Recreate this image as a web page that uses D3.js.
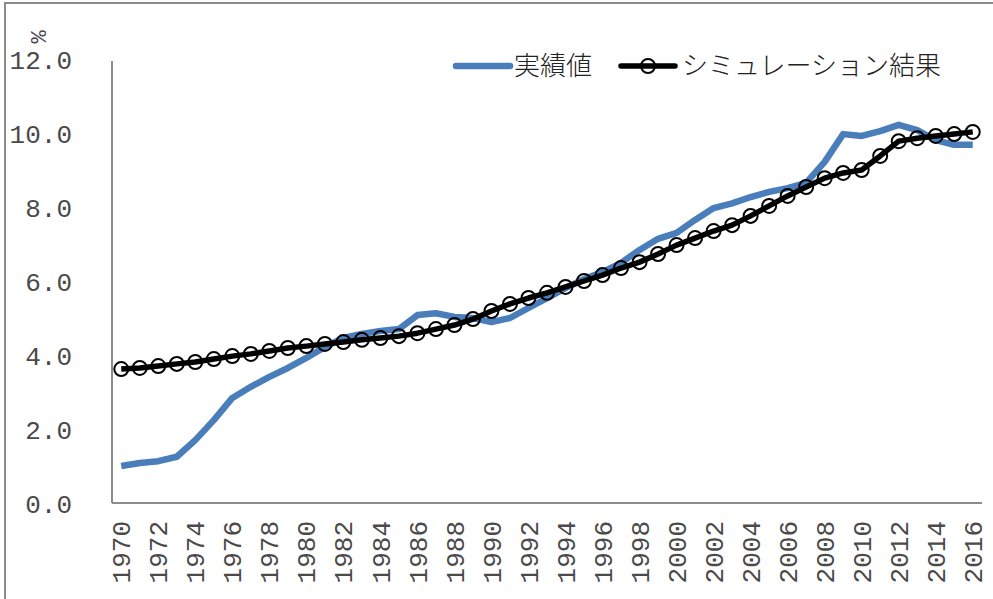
<!DOCTYPE html>
<html>
<head>
<meta charset="utf-8">
<script src="https://cdn.jsdelivr.net/npm/d3@7"></script>
<style>
  body { margin: 0; background: #fff; }
  svg { display: block; }
  .tick text { font-family: "Liberation Mono", monospace; font-size: 26px; fill: #4a4a4a; }
  .legend text { font-family: "Noto Sans CJK JP", sans-serif; font-size: 26px; font-weight: 300; fill: #222; }
</style>
</head>
<body>
<div id="chart"></div>
<script>
// 年
var years = d3.range(1970, 2017);
var yTicks = [0, 2, 4, 6, 8, 10, 12];

// 実績値
var actual = [1.00, 1.08, 1.13, 1.25, 1.70, 2.24, 2.84, 3.14, 3.41, 3.65,
  3.92, 4.22, 4.46, 4.57, 4.65, 4.70, 5.08, 5.13, 5.03, 5.00,
  4.89, 5.00, 5.27, 5.54, 5.81, 6.05, 6.24, 6.49, 6.84, 7.14,
  7.30, 7.65, 7.97, 8.10, 8.27, 8.41, 8.51, 8.65, 9.22, 9.97,
  9.92, 10.05, 10.22, 10.08, 9.81, 9.68, 9.68];

// シミュレーション結果
var simulated = [3.62, 3.65, 3.70, 3.76, 3.81, 3.89, 3.97, 4.03, 4.11, 4.19,
  4.24, 4.30, 4.35, 4.41, 4.46, 4.51, 4.59, 4.70, 4.81, 4.97,
  5.19, 5.38, 5.54, 5.68, 5.84, 6.00, 6.16, 6.35, 6.51, 6.73,
  6.97, 7.16, 7.35, 7.51, 7.76, 8.03, 8.30, 8.54, 8.78, 8.92,
  9.00, 9.38, 9.78, 9.86, 9.92, 9.97, 10.03];

var seriesNames = ["実績値", "シミュレーション結果"];

var W = 993, H = 599;
var plotLeft = 112, plotRight = 982, plotTop = 59, plotBottom = 503;

var svg = d3.select("#chart").append("svg").attr("width", W).attr("height", H);

// 外枠
svg.append("rect")
  .attr("x", 5).attr("y", 3).attr("width", 1000).attr("height", 700)
  .attr("fill", "none").attr("stroke", "#8c8c8c").attr("stroke-width", 2);

var x = d3.scaleBand().domain(years).range([plotLeft, plotRight]);
var y = d3.scaleLinear().domain([0, 12]).range([plotBottom, plotTop]);
var cx = d => x(d) + x.bandwidth() / 2;

// Y軸
var yAxis = svg.append("g")
  .attr("transform", `translate(${plotLeft},0)`)
  .call(d3.axisLeft(y).tickValues(yTicks).tickFormat(d3.format(".1f")).tickSize(0).tickPadding(40));
yAxis.select(".domain").attr("stroke", "#8c8c8c").attr("stroke-width", 2).attr("d", `M0,${plotTop + 2}V${plotBottom}`);
yAxis.selectAll(".tick text").attr("dy", "0.35em");

// X軸
var xAxis = svg.append("g")
  .attr("transform", `translate(0,${plotBottom})`)
  .call(d3.axisBottom(x).tickValues(years.filter(d => d % 2 === 0)).tickSize(0));
xAxis.select(".domain").attr("stroke", "#8c8c8c").attr("stroke-width", 2).attr("d", `M${plotLeft},0H${plotRight}`);
xAxis.selectAll(".tick text")
  .attr("transform", "rotate(-90)")
  .attr("text-anchor", "end")
  .attr("x", -18).attr("y", 0).attr("dy", "0.35em");

// 単位
svg.append("text")
  .attr("transform", "translate(38,37) rotate(-90)")
  .attr("text-anchor", "middle").attr("dy", "0.35em")
  .style("font-family", "Liberation Mono, monospace").style("font-size", "22px").attr("fill", "#4a4a4a")
  .text("%");

var line = d3.line().x((d, i) => cx(years[i])).y(d => y(d));

svg.append("path").datum(actual)
  .attr("d", line).attr("fill", "none")
  .attr("stroke", "#4a7ebb").attr("stroke-width", 6.5).attr("stroke-linejoin", "round");

svg.append("path").datum(simulated)
  .attr("d", line).attr("fill", "none")
  .attr("stroke", "#000").attr("stroke-width", 5.5).attr("stroke-linejoin", "round");

svg.selectAll("circle.sim").data(simulated).join("circle")
  .attr("class", "sim")
  .attr("cx", (d, i) => cx(years[i])).attr("cy", d => y(d)).attr("r", 7)
  .attr("fill", "none").attr("stroke", "#000").attr("stroke-width", 2);

// 凡例
var legend = svg.append("g").attr("class", "legend");
legend.append("line").attr("x1", 456).attr("x2", 510).attr("y1", 66).attr("y2", 66)
  .attr("stroke", "#4a7ebb").attr("stroke-width", 6.5).attr("stroke-linecap", "round");
legend.append("text").attr("x", 514).attr("y", 66).attr("dy", "0.35em").text(seriesNames[0]);
legend.append("line").attr("x1", 621).attr("x2", 675).attr("y1", 66).attr("y2", 66)
  .attr("stroke", "#000").attr("stroke-width", 5.5).attr("stroke-linecap", "round");
legend.append("circle").attr("cx", 648).attr("cy", 66).attr("r", 7)
  .attr("fill", "none").attr("stroke", "#000").attr("stroke-width", 2);
legend.append("text").attr("x", 682).attr("y", 66).attr("dy", "0.35em").text(seriesNames[1]);
</script>
</body>
</html>
